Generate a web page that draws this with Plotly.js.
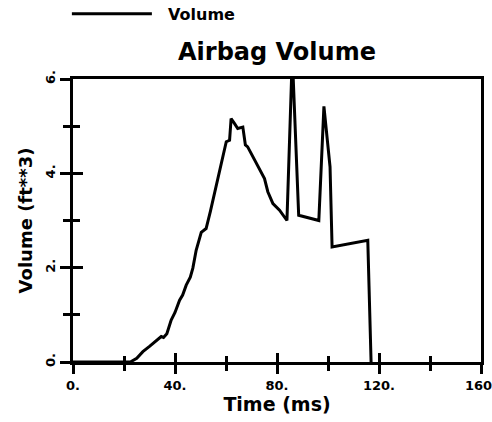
<!DOCTYPE html>
<html>
<head>
<meta charset="utf-8">
<script src="https://cdn.plot.ly/plotly-3.0.1.min.js"></script>
<style>html,body{margin:0;padding:0;background:#fff;}#chart{width:492px;height:422px;}</style>
</head>
<body>
<div id="chart"></div>
<script>
// Time (ms)
var timeMs = [0, 22.5, 25.0, 27.4, 30.0, 32.5, 34.6, 35.5, 36.8, 38.5, 40.0, 41.8, 43.0, 44.4, 46.0, 47.0,
  48.3, 50.3, 52.2, 53.9, 56.0, 57.5, 59.4, 60.1, 61.4, 62.0, 63.3, 64.6, 66.6, 67.6, 68.5, 71.2, 73.0,
  75.1, 76.4, 78.4, 81.0, 83.9, 86.0, 88.5, 96.4, 98.4, 100.8, 101.6, 115.6, 116.9];
// Volume (ft**3)
var volume = [0, 0, 0.08, 0.22, 0.33, 0.45, 0.54, 0.52, 0.6, 0.89, 1.05, 1.31, 1.42, 1.63, 1.8, 1.99,
  2.37, 2.75, 2.83, 3.2, 3.7, 4.07, 4.49, 4.67, 4.7, 5.16, 5.06, 4.95, 4.98, 4.6, 4.56, 4.28, 4.1,
  3.89, 3.61, 3.36, 3.22, 3.0, 6.5, 3.11, 3.0, 5.42, 4.14, 2.44, 2.58, 0];
var xTickVals = [0, 40, 80, 120, 160];
var xTickText = ["0.", "40.", "80.", "120.", "160."];
var xMinorVals = [20, 60, 100, 140];
var yTickVals = [0, 2, 4, 6];
var yTickText = ["0.", "2.", "4.", "6."];
var yMinorVals = [1, 3, 5];

var FONT = "DejaVu Sans";
var trace = {
  x: timeMs, y: volume, type: "scatter", mode: "lines", name: "\u00a0\u00a0Volume",
  line: {color: "#000", width: 3}, showlegend: true
};
var layout = {
  width: 492, height: 422,
  margin: {l: 73, r: 11, t: 79, b: 60, autoexpand: false},
  paper_bgcolor: "#fff", plot_bgcolor: "#fff",
  font: {family: FONT, color: "#000", weight: "bold"},
  title: {text: "Airbag Volume", font: {family: FONT, size: 24, weight: "bold", color: "#000"},
    x: 0.5, xref: "paper", y: 1 - 52/422, yref: "container", yanchor: "middle"},
  showlegend: true,
  legend: {x: -0.015, y: 1.23, xanchor: "left", yanchor: "middle", xref: "paper", yref: "paper",
    font: {family: FONT, size: 16, weight: "bold", color: "#000"}, itemwidth: 80, bgcolor: "rgba(0,0,0,0)"},
  xaxis: {
    range: [0, 160], tickvals: xTickVals, ticktext: xTickText, tickmode: "array",
    ticks: "outside", ticklen: 9, tickwidth: 3, tickcolor: "#000",
    minor: {tickvals: xMinorVals, ticks: "outside", ticklen: 6, tickwidth: 3, tickcolor: "#000"},
    showline: true, linewidth: 3, linecolor: "#000", mirror: true,
    showgrid: false, zeroline: false, ticklabeloverflow: "allow",
    tickfont: {family: FONT, size: 13, weight: "bold", color: "#000"},
    title: {text: "Time (ms)", font: {family: FONT, size: 19, weight: "bold", color: "#000"}, standoff: 6}
  },
  xaxis2: {
    overlaying: "x", anchor: "y", range: [0, 160], tickmode: "array", tickvals: xTickVals,
    showticklabels: false, ticks: "inside", ticklen: 9, tickwidth: 3, tickcolor: "#000",
    minor: {tickvals: xMinorVals, ticks: "inside", ticklen: 6, tickwidth: 3, tickcolor: "#000"},
    showline: false, showgrid: false, zeroline: false
  },
  yaxis: {
    range: [0, 6], tickvals: yTickVals, ticktext: yTickText, tickmode: "array", tickangle: -90,
    ticks: "outside", ticklen: 10, tickwidth: 3, tickcolor: "#000",
    minor: {tickvals: yMinorVals, ticks: "outside", ticklen: 7, tickwidth: 3, tickcolor: "#000"},
    showline: true, linewidth: 3, linecolor: "#000", mirror: true,
    showgrid: false, zeroline: false, ticklabeloverflow: "allow",
    tickfont: {family: FONT, size: 13, weight: "bold", color: "#000"},
    title: {text: "Volume (ft**3)", font: {family: FONT, size: 18, weight: "bold", color: "#000"}, standoff: 6}
  },
  yaxis2: {
    overlaying: "y", anchor: "x", side: "left", range: [0, 6], tickmode: "array", tickvals: yTickVals,
    showticklabels: false, ticks: "inside", ticklen: 10, tickwidth: 3, tickcolor: "#000",
    minor: {tickvals: yMinorVals, ticks: "inside", ticklen: 7, tickwidth: 3, tickcolor: "#000"},
    showline: false, showgrid: false, zeroline: false
  }
};
var helper = {x: [0], y: [0], xaxis: "x2", yaxis: "y2", type: "scatter", mode: "markers",
  marker: {opacity: 0}, showlegend: false, hoverinfo: "skip"};
Plotly.newPlot("chart", [trace, helper], layout, {displayModeBar: false, staticPlot: true});
</script>
</body>
</html>
